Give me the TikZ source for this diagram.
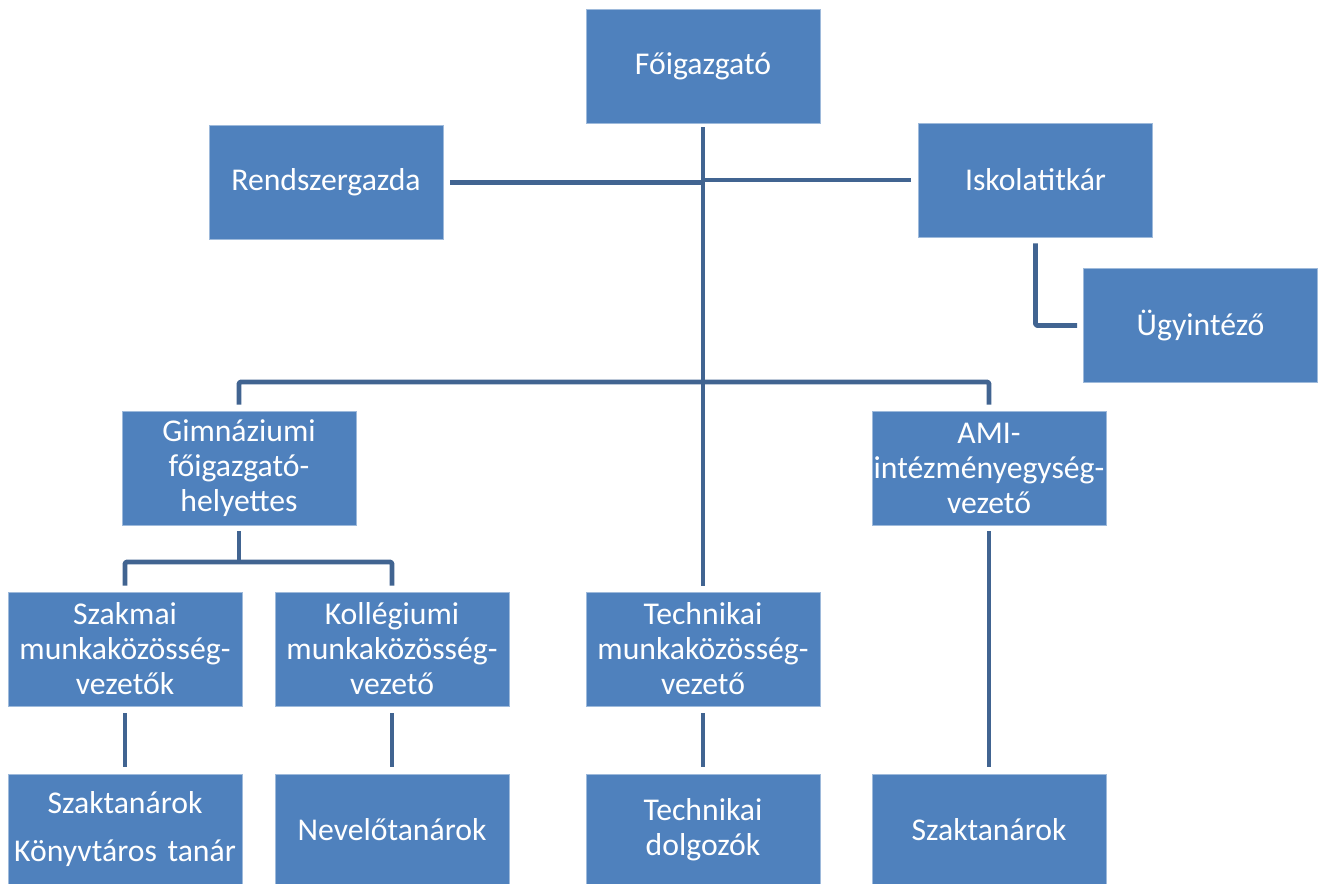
\documentclass[tikz,border=0pt]{standalone}
\usepackage{fontspec}
\setmainfont{Carlito}
\definecolor{boxblue}{RGB}{79,129,189}
\definecolor{linkblue}{RGB}{65,100,145}
\begin{document}
\begin{tikzpicture}[x=1pt,y=-1pt,
  orgbox/.style={rectangle, fill=boxblue, draw=boxblue!55!white, line width=0.8pt,
    minimum width=234pt, minimum height=114pt, text width=232pt, align=center,
    text=white, font=\fontsize{31.7}{35}\selectfont, inner sep=0pt},
  lowbox/.style={orgbox, minimum height=111pt},
  link/.style={draw=linkblue, line width=4.8pt, line join=round, rounded corners=1.5pt}]
\useasboundingbox (0,0) rectangle (1318,884);

\node[orgbox] (f)    at (703,66)     {Főigazgató};
\node[orgbox] (rend) at (326,182.5)  {Rendszergazda};
\node[orgbox] (isk)  at (1035.5,180) {Iskolatitkár};
\node[orgbox] (ugy)  at (1200.5,325.5) {Ügyintéző};
\node[orgbox] (gim)  at (239,468)    {Gimnáziumi\\főigazgató-\\helyettes};
\node[orgbox] (ami)  at (989,468)    {AMI-\\intézményegység-\\vezető};
\node[orgbox] (szak) at (125,649)    {Szakmai\\munkaközösség-\\vezetők};
\node[orgbox] (koll) at (392,649)    {Kollégiumi\\munkaközösség-\\vezető};
\node[orgbox] (tech) at (703,649)    {Technikai\\munkaközösség-\\vezető};
\node[lowbox] (b1)   at (125,829.5)  {Szaktanárok\\[13pt]\mbox{Könyvtáros tanár}};
\node[lowbox] (b2)   at (392,829.5)  {Nevelőtanárok};
\node[lowbox] (b3)   at (703,829.5)  {Technikai\\dolgozók};
\node[lowbox] (b4)   at (989,829.5)  {Szaktanárok};

\coordinate (bar)  at (0,382);
\coordinate (bar2) at (0,562);

\draw[link, shorten <=4pt, shorten >=6pt] (f.south) -- (tech.north);
\draw[link, shorten <=7pt] (rend.east) -- (rend.east -| f.south);
\draw[link, shorten <=7pt] (isk.west) -- (isk.west -| f.south);
\draw[link, shorten <=6pt, shorten >=6pt] (isk.south) |- (ugy.west);
\draw[link, shorten <=6pt, shorten >=6pt] (gim.north) -- (gim.north |- bar) -- (ami.north |- bar) -- (ami.north);
\draw[link, shorten <=6pt] (gim.south) -- (gim.south |- bar2);
\draw[link, shorten <=6pt, shorten >=6pt] (szak.north) -- (szak.north |- bar2) -- (koll.north |- bar2) -- (koll.north);
\draw[link, shorten <=6pt, shorten >=7pt] (ami.south) -- (b4.north);
\draw[link, shorten <=7pt, shorten >=7pt] (szak.south) -- (b1.north);
\draw[link, shorten <=7pt, shorten >=7pt] (koll.south) -- (b2.north);
\draw[link, shorten <=7pt, shorten >=7pt] (tech.south) -- (b3.north);
\end{tikzpicture}
\end{document}
